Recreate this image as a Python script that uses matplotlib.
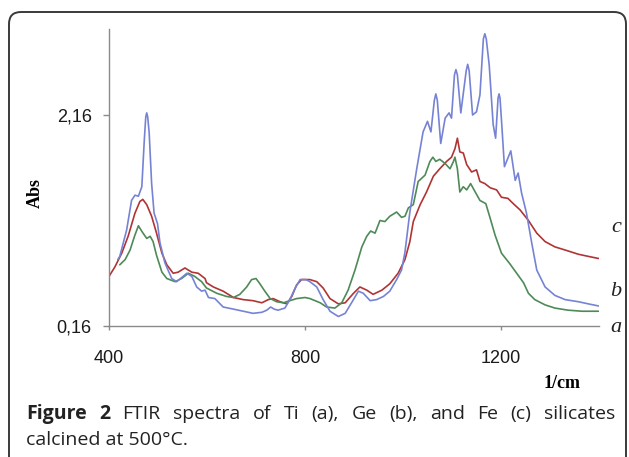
import matplotlib
matplotlib.use("Agg")
import matplotlib.pyplot as plt
from matplotlib.patches import FancyBboxPatch
from matplotlib.transforms import IdentityTransform

# ---- data (wavenumber, absorbance) ----
b_wn = [418, 422, 436, 446, 453, 460, 467, 472, 475, 477, 479, 482, 487, 492, 499, 504, 514, 528, 538, 559, 569, 579, 589, 596, 603, 616, 633, 654, 674, 694, 712, 722, 730, 737, 745, 759, 769, 780, 790, 802, 810, 824, 837, 851, 868, 882, 895, 909, 919, 933, 946, 960, 973, 987, 997, 1004, 1014, 1028, 1041, 1050, 1057, 1064, 1067, 1070, 1077, 1086, 1094, 1099, 1105, 1108, 1111, 1118, 1129, 1132, 1135, 1142, 1150, 1157, 1164, 1167, 1170, 1176, 1184, 1189, 1194, 1196, 1198, 1201, 1207, 1220, 1229, 1235, 1242, 1252, 1263, 1273, 1290, 1310, 1331, 1358, 1378, 1399]
b_abs = [0.79, 0.82, 1.07, 1.35, 1.40, 1.39, 1.48, 1.92, 2.14, 2.18, 2.14, 1.99, 1.51, 1.23, 1.13, 0.95, 0.76, 0.61, 0.58, 0.66, 0.63, 0.53, 0.49, 0.50, 0.43, 0.42, 0.34, 0.32, 0.30, 0.28, 0.29, 0.31, 0.34, 0.32, 0.31, 0.33, 0.41, 0.52, 0.60, 0.60, 0.58, 0.53, 0.41, 0.30, 0.25, 0.28, 0.38, 0.49, 0.47, 0.40, 0.41, 0.44, 0.49, 0.60, 0.69, 0.86, 1.24, 1.65, 2.00, 2.10, 2.00, 2.30, 2.36, 2.30, 1.89, 2.13, 2.18, 2.13, 2.54, 2.59, 2.54, 2.18, 2.58, 2.64, 2.58, 2.16, 2.19, 2.35, 2.88, 2.93, 2.88, 2.63, 2.07, 1.94, 2.32, 2.36, 2.32, 2.11, 1.67, 1.82, 1.54, 1.61, 1.42, 1.23, 0.94, 0.69, 0.53, 0.45, 0.41, 0.39, 0.37, 0.35]

c_wn = [400, 412, 426, 439, 453, 463, 469, 477, 487, 497, 508, 518, 531, 541, 555, 569, 582, 596, 599, 613, 633, 654, 674, 694, 712, 725, 735, 749, 763, 773, 783, 793, 804, 810, 824, 837, 851, 868, 882, 899, 912, 926, 939, 957, 973, 990, 1004, 1014, 1021, 1035, 1048, 1062, 1075, 1089, 1099, 1106, 1111, 1116, 1123, 1130, 1140, 1150, 1157, 1167, 1178, 1191, 1201, 1214, 1225, 1239, 1256, 1273, 1290, 1310, 1331, 1358, 1378, 1399]
c_abs = [0.63, 0.72, 0.85, 1.01, 1.23, 1.34, 1.36, 1.31, 1.20, 1.04, 0.85, 0.74, 0.66, 0.67, 0.71, 0.67, 0.66, 0.61, 0.57, 0.53, 0.49, 0.43, 0.41, 0.40, 0.38, 0.41, 0.42, 0.39, 0.37, 0.44, 0.55, 0.60, 0.60, 0.60, 0.58, 0.52, 0.42, 0.37, 0.38, 0.47, 0.53, 0.50, 0.46, 0.50, 0.56, 0.66, 0.79, 0.96, 1.15, 1.31, 1.43, 1.58, 1.65, 1.72, 1.76, 1.84, 1.94, 1.81, 1.80, 1.69, 1.62, 1.64, 1.53, 1.51, 1.47, 1.45, 1.38, 1.37, 1.32, 1.26, 1.16, 1.04, 0.96, 0.91, 0.88, 0.84, 0.82, 0.80]

a_wn = [422, 433, 443, 452, 460, 468, 477, 484, 490, 497, 508, 518, 535, 548, 562, 575, 589, 599, 620, 640, 654, 667, 681, 691, 700, 708, 718, 729, 742, 756, 769, 783, 800, 810, 831, 844, 861, 875, 888, 902, 916, 926, 934, 943, 953, 963, 973, 987, 997, 1004, 1011, 1021, 1031, 1045, 1055, 1061, 1067, 1075, 1086, 1096, 1103, 1106, 1111, 1116, 1123, 1130, 1138, 1145, 1157, 1169, 1178, 1188, 1201, 1218, 1232, 1246, 1256, 1269, 1290, 1310, 1337, 1365, 1399]
a_abs = [0.74, 0.79, 0.88, 1.01, 1.11, 1.05, 0.99, 1.01, 0.96, 0.83, 0.67, 0.61, 0.58, 0.61, 0.66, 0.63, 0.58, 0.52, 0.47, 0.44, 0.43, 0.46, 0.53, 0.60, 0.61, 0.56, 0.49, 0.42, 0.39, 0.38, 0.40, 0.42, 0.43, 0.42, 0.38, 0.34, 0.33, 0.38, 0.50, 0.69, 0.91, 1.01, 1.06, 1.04, 1.16, 1.15, 1.20, 1.24, 1.19, 1.20, 1.28, 1.31, 1.53, 1.59, 1.72, 1.76, 1.72, 1.74, 1.70, 1.65, 1.72, 1.76, 1.65, 1.43, 1.48, 1.45, 1.51, 1.45, 1.35, 1.32, 1.18, 1.02, 0.85, 0.75, 0.66, 0.57, 0.47, 0.41, 0.36, 0.33, 0.31, 0.30, 0.30]

x_ticks = [400, 800, 1200]
y_ticks = [0.16, 2.16]
y_ticklabels = ["0,16", "2,16"]
curve_labels = ["a", "b", "c"]
caption_bold = "Figure 2"
caption_line1 = "FTIR spectra of Ti (a), Ge (b), and Fe (c) silicates"
caption_line2 = "calcined at 500°C."

W, H = 629, 457
fig = plt.figure(figsize=(W / 100, H / 100), dpi=100)
fig.patch.set_facecolor("white")

ax = fig.add_axes([109 / W, 1 - 326 / H, (599 - 109) / W, (326 - 29) / H])
kw = dict(lw=1.2, solid_joinstyle="round", solid_capstyle="round")
ax.plot(c_wn, c_abs, color="#b03434", **kw)
ax.plot(a_wn, a_abs, color="#4e8a58", **kw)
ax.plot(b_wn, b_abs, color="#7683d4", **kw)

ax.set_xlim(400, 1400)
ax.set_ylim(0.16, 2.975)
for s in ["top", "right"]:
    ax.spines[s].set_visible(False)
for s in ["left", "bottom"]:
    ax.spines[s].set_color("#8a8a8a")
    ax.spines[s].set_linewidth(1.0)
ax.set_xticks(x_ticks)
ax.set_xticklabels([str(t) for t in x_ticks])
ax.set_yticks(y_ticks)
ax.set_yticklabels(y_ticklabels)
ax.tick_params(axis="x", direction="out", length=3, width=1, color="#8a8a8a",
               pad=14, labelsize=13, labelcolor="#1a1a1a")
ax.tick_params(axis="y", direction="out", length=4.5, width=1, color="#8a8a8a",
               pad=8, labelsize=13, labelcolor="#1a1a1a")
for lab in ax.get_xticklabels() + ax.get_yticklabels():
    lab.set_family("Liberation Sans")

# axis titles
fig.text(35 / W, 1 - 193 / H, "Abs", rotation=90, ha="center", va="center",
         family="Liberation Serif", weight="bold", fontsize=13)
fig.text(562 / W, 1 - 383 / H, "1/cm", ha="center", va="center",
         family="Liberation Serif", weight="bold", fontsize=13)

# curve labels
for lab, yy in zip(curve_labels, [328, 291, 227]):
    fig.text(616 / W, 1 - yy / H, lab, ha="center", va="center",
             family="Liberation Serif", style="italic", fontsize=16, color="#222222")

# frame
frame = FancyBboxPatch((9, -30), 617, 445 + 30, boxstyle="round,pad=0,rounding_size=12",
                       transform=IdentityTransform(), facecolor="none",
                       edgecolor="#3a3a3a", linewidth=1.4)
fig.add_artist(frame)

# caption (justified first line)
fig.canvas.draw()
renderer = fig.canvas.get_renderer()
cap_font = "Open Sans"
cap_size = 14
words = [(w, "bold") for w in caption_bold.split()] + [(w, "normal") for w in caption_line1.split()]
x_left, x_right = 26, 615
y1 = 1 - 414 / H
texts = []
total = 0
for w, wt in words:
    t = fig.text(0, y1, w, ha="left", va="center", family=cap_font, weight=wt,
                 fontsize=cap_size, color="#222222")
    wdt = t.get_window_extent(renderer).width
    texts.append((t, wdt))
    total += wdt
gap = (x_right - x_left - total) / (len(words) - 1)
xp = x_left
for t, wdt in texts:
    t.set_x(xp / W)
    xp += wdt + gap
fig.text(x_left / W, 1 - 440 / H, caption_line2, ha="left", va="center",
         family=cap_font, fontsize=cap_size, color="#222222")

fig.savefig("out.png", dpi=100)
